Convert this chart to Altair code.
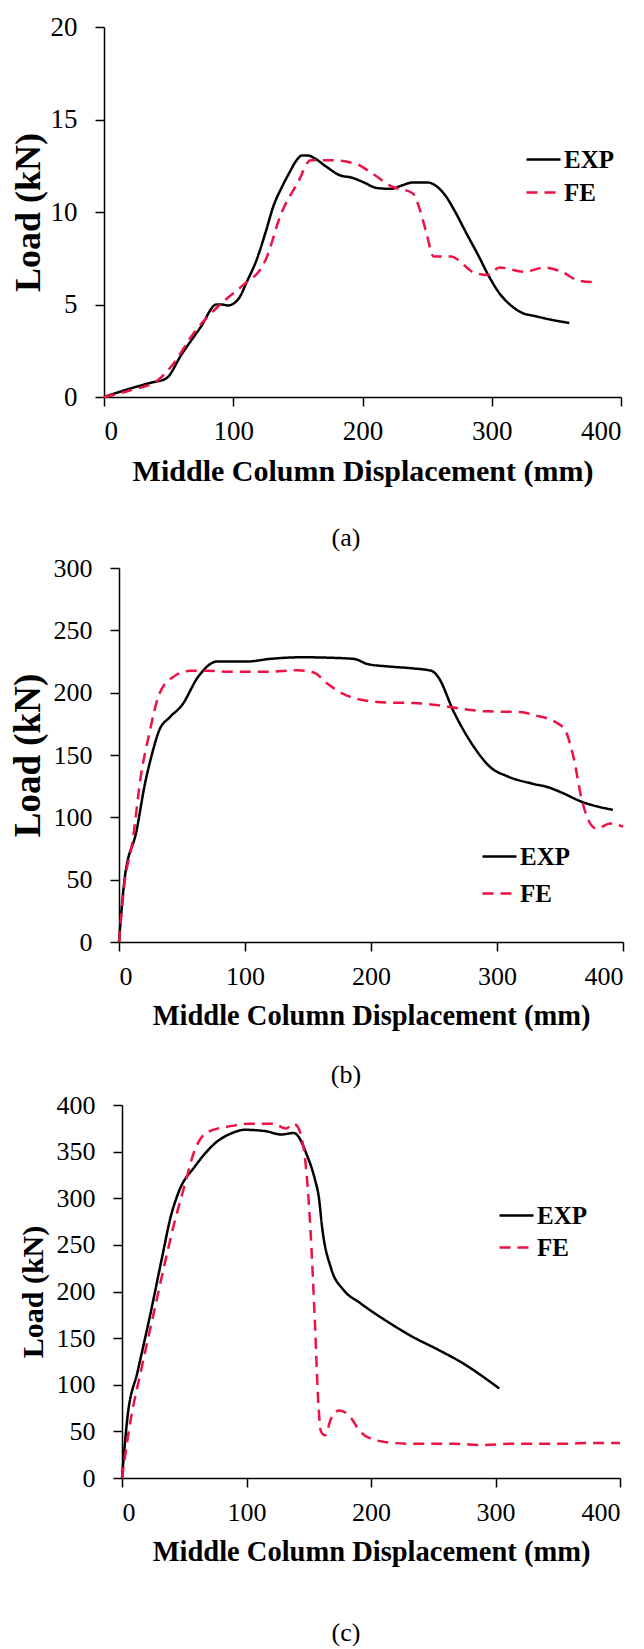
import altair as alt
import pandas as pd

SERIES = ["EXP", "FE"]
X_TICKS = [0, 100, 200, 300, 400]
X_TITLE = "Middle Column Displacement (mm)"
Y_TITLE = "Load (kN)"
CAPTIONS = ["(a)", "(b)", "(c)"]

# ---- panel (a) ----
a_exp_x = [0, 20, 35, 48, 60, 75, 87, 91, 96, 104, 111, 118, 125, 131, 138, 144, 149, 153, 158, 163,
           172, 182, 192, 201, 211, 222, 231, 239, 250, 258, 264, 271, 280, 290, 298, 306, 314, 322,
           335, 348, 360]
a_exp_y = [0, 0.45, 0.75, 1.0, 2.3, 3.8, 5.0, 5.0, 4.95, 5.3, 6.3, 7.4, 8.9, 10.3, 11.4, 12.2, 12.8,
           13.05, 13.05, 12.9, 12.45, 12.0, 11.85, 11.6, 11.3, 11.25, 11.45, 11.6, 11.6, 11.35, 10.9,
           10.1, 8.9, 7.6, 6.5, 5.6, 5.0, 4.6, 4.35, 4.15, 4.0]
a_fe_x = [0, 20, 42, 52, 71, 93, 106, 125, 137, 150, 160, 176, 195, 208, 222, 239, 242, 249, 255,
          268, 287, 297, 306, 325, 341, 354, 367, 381]
a_fe_y = [0, 0.35, 0.93, 1.65, 3.6, 5.2, 5.95, 7.4, 9.9, 11.6, 12.8, 12.8, 12.6, 12.06, 11.4, 11.0,
          10.6, 9.0, 7.6, 7.6, 6.7, 6.6, 7.0, 6.77, 7.0, 6.77, 6.3, 6.2]

# ---- panel (b) ----
b_exp_x = [0, 4.3, 14, 20.6, 26, 32, 40, 50, 63, 78, 84, 102, 119, 145, 168, 187, 197, 214, 233,
           248, 253, 266, 282, 295, 308, 328, 341, 351, 367, 392]
b_exp_y = [0, 49.4, 89.7, 127, 150, 170, 180, 190, 213, 225, 225, 225, 227, 228.4, 228, 227, 223,
           221, 219.5, 217.5, 213, 184, 156, 140, 133, 127, 124, 120, 112.6, 106]
b_fe_x = [0, 4.3, 10.8, 17.3, 24, 32, 43.5, 56.6, 70, 89, 119, 141.6, 155, 165, 178, 191, 214, 233,
          253, 272, 292, 318, 331, 347, 354, 361, 367, 374, 379, 390, 400]
b_fe_y = [0, 46.6, 81, 132.8, 167, 199, 213, 217.5, 217.5, 216.7, 216.7, 218, 216, 207.5, 199, 194.5,
          192, 191.7, 190, 187, 185, 184.5, 181.6, 176, 170, 147, 115.5, 95, 91, 95, 92.5]

# ---- panel (c) ----
c_exp_x = [0, 4.3, 12.6, 22.5, 32.4, 39, 45.6, 58.8, 75.4, 88.6, 98.5, 115, 128, 138, 141.5, 148,
           155, 158, 161, 168, 178, 191, 214, 234, 254, 273, 303]
c_exp_y = [0, 64, 114.5, 174, 238, 279.5, 307, 334.5, 359.7, 370, 373.4, 372, 368.4, 370, 366.5, 348,
           320, 302, 266, 224.5, 201.6, 187.9, 167, 151, 137.5, 123.7, 96]
c_fe_x = [0, 6, 15.9, 25.8, 35.7, 42.3, 48.9, 58.8, 68.8, 88.6, 101.8, 121.6, 131.6, 138, 141.5, 148,
          151.4, 154.7, 158, 159.7, 163, 168, 174.5, 182.8, 191, 197.7, 217.5, 234, 267, 290, 313.4,
          333, 353, 379.5, 400]
c_fe_y = [0, 55, 119, 178.7, 238, 275, 307, 352.8, 371, 377.6, 380, 380, 374.8, 380, 375.7, 330,
          265.7, 174, 73.3, 50.4, 45.8, 64, 72.4, 66.4, 50.4, 43.5, 37.6, 36.7, 36.7, 35.3, 36.7,
          36.7, 36.7, 37.6, 37.6]

FONT = "Liberation Serif"
RED = "#ee1144"


def make_df(ex, ey, fx, fy):
    d1 = pd.DataFrame({"x": ex, "y": ey, "series": SERIES[0], "order": list(range(len(ex)))})
    d2 = pd.DataFrame({"x": fx, "y": fy, "series": SERIES[1], "order": list(range(len(fx)))})
    return pd.concat([d1, d2], ignore_index=True)


AXIS_STYLE = dict(
    grid=False, domainColor="black", domainWidth=1.5, tickColor="black", tickWidth=1.5,
    tickSize=9, labelFont=FONT, labelColor="black",
    titleFont=FONT, titleFontWeight="bold", titleColor="black",
)


def panel(df, ymax, ystep, shift, plot_w, height, label_size, xtitle_size, ytitle_size,
          ytitle_pad, caption, cap_dx, cap_offset, leg_x, leg_y, row_pad):
    legend = alt.Legend(
        title=None, orient="none", legendX=leg_x, legendY=leg_y,
        symbolType="stroke", symbolSize=1156, symbolStrokeWidth=2.5,
        labelFont=FONT, labelFontSize=25, labelFontWeight="bold", labelColor="black",
        labelOffset=2, rowPadding=row_pad, padding=0,
    )
    return alt.Chart(df).mark_line(strokeWidth=2.5, interpolate="monotone").encode(
        x=alt.X("x:Q", scale=alt.Scale(domain=[0, 400], nice=False, range=[shift, shift + plot_w]),
                axis=alt.Axis(values=X_TICKS, title=X_TITLE, titleFontSize=xtitle_size,
                              labelFontSize=label_size, labelPadding=12, titlePadding=12,
                              **AXIS_STYLE)),
        y=alt.Y("y:Q", scale=alt.Scale(domain=[0, ymax], nice=False),
                axis=alt.Axis(values=list(range(0, ymax + 1, ystep)), title=Y_TITLE,
                              titleFontSize=ytitle_size, titlePadding=ytitle_pad,
                              labelFontSize=label_size, labelPadding=18, offset=-shift,
                              **AXIS_STYLE)),
        color=alt.Color("series:N", scale=alt.Scale(domain=SERIES, range=["#000000", RED]),
                        legend=legend),
        strokeDash=alt.StrokeDash("series:N",
                                  scale=alt.Scale(domain=SERIES, range=[[1, 0], [11, 7]]),
                                  legend=legend),
        order="order:Q",
    ).properties(
        width=shift + plot_w, height=height,
        title=alt.TitleParams(caption, orient="bottom", anchor="middle", frame="group",
                              font=FONT, fontSize=26, fontWeight="normal", color="black",
                              offset=cap_offset, dx=cap_dx),
    )


pa = panel(make_df(a_exp_x, a_exp_y, a_fe_x, a_fe_y), 20, 5, 0, 517, 370, 27, 30, 36, 3,
           CAPTIONS[0], -16.5, 39, 421, 114, 1)
pb = panel(make_df(b_exp_x, b_exp_y, b_fe_x, b_fe_y), 300, 50, 15, 504, 374, 26, 28.5, 37, 5.5,
           CAPTIONS[1], -17.5, 32, 377, 270, 5)
pc = panel(make_df(c_exp_x, c_exp_y, c_fe_x, c_fe_y), 400, 50, 18, 498, 373, 26, 28.5, 30, 8,
           CAPTIONS[2], -16, 54, 394, 92, 0)

chart = alt.concat(pa, pb, pc, columns=1, spacing=4).resolve_scale(
    color="independent", strokeDash="independent", x="independent", y="independent"
).resolve_legend(color="independent", strokeDash="independent").properties(
    padding={"left": 1, "top": 5, "right": 0, "bottom": 0}, background="white"
).configure_view(stroke=None).configure_axis(**AXIS_STYLE)

chart.save("out.html", embed_options={"renderer": "svg", "actions": False})
